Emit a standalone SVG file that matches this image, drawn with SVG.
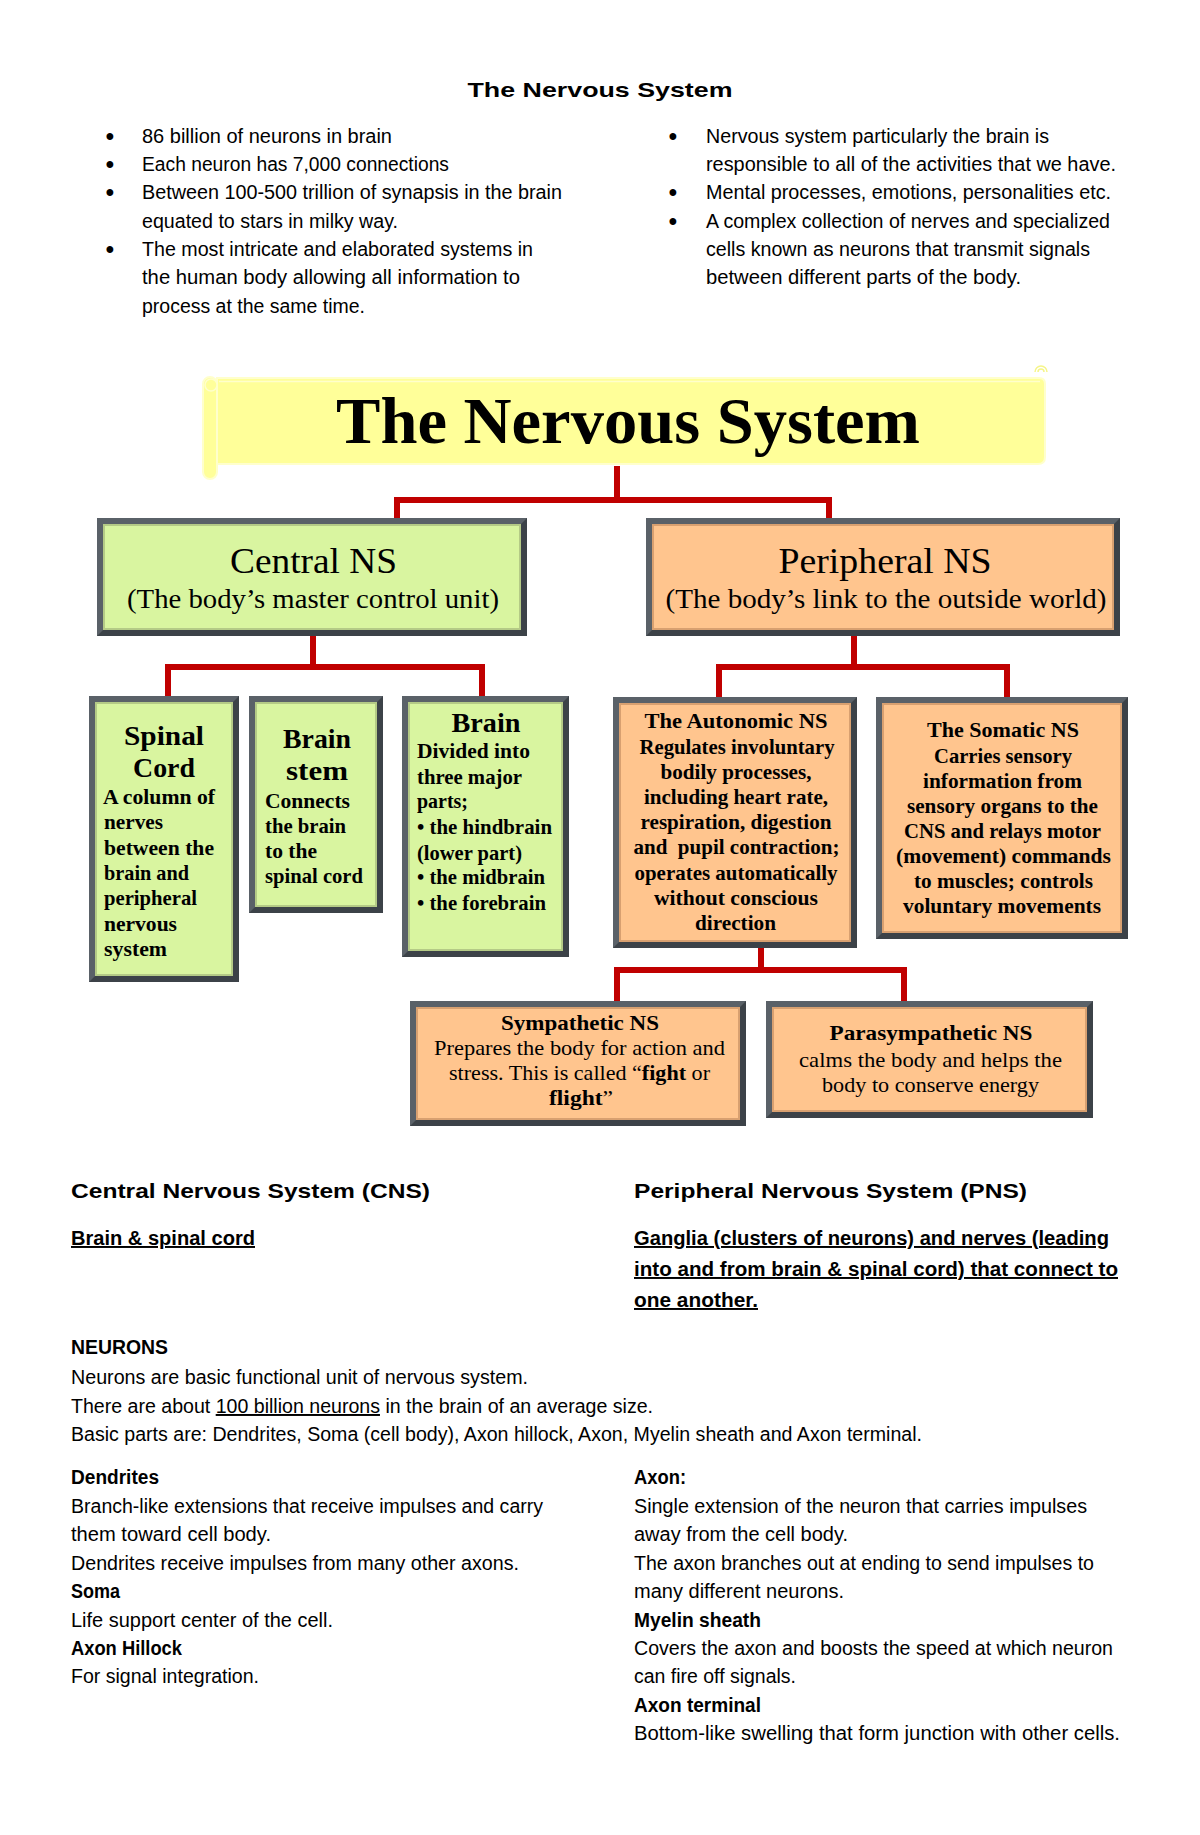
<svg xmlns="http://www.w3.org/2000/svg" width="1200" height="1835" viewBox="0 0 1200 1835">
<style>
.t{font-family:"Liberation Sans",Arial,sans-serif;font-size:19.5px;fill:#000}
.tb{font-family:"Liberation Sans",Arial,sans-serif;font-size:19.5px;font-weight:bold;fill:#000}
.th{font-family:"Liberation Sans",Arial,sans-serif;font-size:21px;font-weight:bold;fill:#000}
.bul{font-family:"Liberation Sans",Arial,sans-serif;font-size:25px;text-anchor:middle;fill:#000}
.u{text-decoration:underline}
.sr{font-family:"Liberation Serif","Times New Roman",serif;fill:#000}
.sb{font-family:"Liberation Serif","Times New Roman",serif;font-weight:bold;fill:#000}
.c{text-anchor:middle}
.fo{fill:#5a6168}
.fd{fill:#3c4248}
.g{fill:#d9f5a0;stroke:#b4ca86;stroke-width:2}
.o{fill:#ffc58e;stroke:#d8a070;stroke-width:2}
.conn{fill:none;stroke:#c00000;stroke-width:6;stroke-linejoin:miter}
</style>

<!-- Header text -->
<g id="header">
<text class="th c" x="600" y="97" font-size="23" textLength="265" lengthAdjust="spacingAndGlyphs">The Nervous System</text>
<g class="bul">
<text x="110" y="145">•</text>
<text x="110" y="173">•</text>
<text x="110" y="201">•</text>
<text x="110" y="258">•</text>
<text x="673" y="145">•</text>
<text x="673" y="201">•</text>
<text x="673" y="230">•</text>
</g>
<g class="t">
<text x="142" y="143" textLength="250" lengthAdjust="spacingAndGlyphs">86 billion of neurons in brain</text>
<text x="142" y="171" textLength="307" lengthAdjust="spacingAndGlyphs">Each neuron has 7,000 connections</text>
<text x="142" y="199" textLength="420" lengthAdjust="spacingAndGlyphs">Between 100-500 trillion of synapsis in the brain</text>
<text x="142" y="228" textLength="256" lengthAdjust="spacingAndGlyphs">equated to stars in milky way.</text>
<text x="142" y="256" textLength="391" lengthAdjust="spacingAndGlyphs">The most intricate and elaborated systems in</text>
<text x="142" y="284" textLength="378" lengthAdjust="spacingAndGlyphs">the human body allowing all information to</text>
<text x="142" y="313" textLength="223" lengthAdjust="spacingAndGlyphs">process at the same time.</text>
<text x="706" y="143" textLength="343" lengthAdjust="spacingAndGlyphs">Nervous system particularly the brain is</text>
<text x="706" y="171" textLength="410" lengthAdjust="spacingAndGlyphs">responsible to all of the activities that we have.</text>
<text x="706" y="199" textLength="405" lengthAdjust="spacingAndGlyphs">Mental processes, emotions, personalities etc.</text>
<text x="706" y="228" textLength="404" lengthAdjust="spacingAndGlyphs">A complex collection of nerves and specialized</text>
<text x="706" y="256" textLength="384" lengthAdjust="spacingAndGlyphs">cells known as neurons that transmit signals</text>
<text x="706" y="284" textLength="315" lengthAdjust="spacingAndGlyphs">between different parts of the body.</text>
</g>
</g>

<!-- Connectors -->
<g id="connectors" class="conn">
<path d="M617,466 V500 M397,518 V500 H829 V518"/>
<path d="M313,636 V667 M168,697 V667 H482 V697"/>
<path d="M854,636 V667 M719,697 V667 H1007 V697"/>
<path d="M761,948 V970 M617,1001 V970 H904 V1001"/>
</g>

<!-- Banner -->
<g id="banner">
<path d="M217,378 H1039 Q1045,378 1045,384 V457 Q1045,464 1038,464 H217 Z" fill="#ffff99" stroke="#ffffcc" stroke-width="2"/>
<line x1="219" y1="381.5" x2="1040" y2="381.5" stroke="#ffffcc" stroke-width="1.5"/>
<rect x="203" y="377" width="14" height="102" rx="7" fill="#ffff99" stroke="#ffffcc" stroke-width="2"/>
<circle cx="211" cy="385" r="6" fill="#ffff99" stroke="#ffffcc" stroke-width="1.5"/>
<path d="M1035,372 A6,6 0 1 1 1047,372 M1038,372 A3,3 0 1 1 1044,372" fill="none" stroke="#f5f58a" stroke-width="1.5"/>
<text class="sb c" x="628" y="443" font-size="66" textLength="584" lengthAdjust="spacingAndGlyphs">The Nervous System</text>
</g>

<!-- Central NS -->
<g id="central">
<rect class="fo" x="97" y="518" width="430" height="118"/>
<polygon class="fd" points="527,518 527,636 97,636 104,629 520,629 520,525"/>
<rect class="g" x="104" y="525" width="416" height="104"/>
<text class="sr c" x="313.5" y="573" font-size="36" textLength="167" lengthAdjust="spacingAndGlyphs">Central NS</text>
<text class="sr c" x="313" y="608" font-size="27" textLength="372" lengthAdjust="spacingAndGlyphs">(The body’s master control unit)</text>
</g>

<!-- Peripheral NS -->
<g id="peripheral">
<rect class="fo" x="646" y="518" width="474" height="118"/>
<polygon class="fd" points="1120,518 1120,636 646,636 653,629 1113,629 1113,525"/>
<rect class="o" x="653" y="525" width="460" height="104"/>
<text class="sr c" x="885" y="573" font-size="36" textLength="213" lengthAdjust="spacingAndGlyphs">Peripheral NS</text>
<text class="sr c" x="886" y="608" font-size="27" textLength="441" lengthAdjust="spacingAndGlyphs">(The body’s link to the outside world)</text>
</g>

<!-- Spinal Cord -->
<g id="spinal">
<rect class="fo" x="89" y="696" width="150" height="286"/>
<polygon class="fd" points="239,696 239,982 89,982 96,975 232,975 232,703"/>
<rect class="g" x="96" y="703" width="136" height="272"/>
<text class="sb c" x="164" y="745" font-size="28" textLength="80" lengthAdjust="spacingAndGlyphs">Spinal</text>
<text class="sb c" x="164" y="777" font-size="28" textLength="62" lengthAdjust="spacingAndGlyphs">Cord</text>
<g class="sb" font-size="22">
<text x="103" y="804" textLength="112" lengthAdjust="spacingAndGlyphs">A column of</text>
<text x="104" y="829" textLength="59" lengthAdjust="spacingAndGlyphs">nerves</text>
<text x="104" y="855" textLength="110" lengthAdjust="spacingAndGlyphs">between the</text>
<text x="104" y="880" textLength="85" lengthAdjust="spacingAndGlyphs">brain and</text>
<text x="104" y="905" textLength="93" lengthAdjust="spacingAndGlyphs">peripheral</text>
<text x="104" y="931" textLength="73" lengthAdjust="spacingAndGlyphs">nervous</text>
<text x="104" y="956" textLength="63" lengthAdjust="spacingAndGlyphs">system</text>
</g>
</g>

<!-- Brain stem -->
<g id="brainstem">
<rect class="fo" x="249" y="696" width="134" height="217"/>
<polygon class="fd" points="383,696 383,913 249,913 256,906 376,906 376,703"/>
<rect class="g" x="256" y="703" width="120" height="203"/>
<text class="sb c" x="317" y="748" font-size="28" textLength="68" lengthAdjust="spacingAndGlyphs">Brain</text>
<text class="sb c" x="317" y="780" font-size="28" textLength="62" lengthAdjust="spacingAndGlyphs">stem</text>
<g class="sb" font-size="22">
<text x="265" y="808" textLength="85" lengthAdjust="spacingAndGlyphs">Connects</text>
<text x="265" y="833" textLength="81" lengthAdjust="spacingAndGlyphs">the brain</text>
<text x="265" y="858" textLength="52" lengthAdjust="spacingAndGlyphs">to the</text>
<text x="265" y="883" textLength="98" lengthAdjust="spacingAndGlyphs">spinal cord</text>
</g>
</g>

<!-- Brain -->
<g id="brain">
<rect class="fo" x="402" y="696" width="167" height="261"/>
<polygon class="fd" points="569,696 569,957 402,957 409,950 562,950 562,703"/>
<rect class="g" x="409" y="703" width="153" height="247"/>
<text class="sb c" x="486" y="732" font-size="28" textLength="69" lengthAdjust="spacingAndGlyphs">Brain</text>
<g class="sb" font-size="22">
<text x="417" y="758" textLength="113" lengthAdjust="spacingAndGlyphs">Divided into</text>
<text x="417" y="784" textLength="105" lengthAdjust="spacingAndGlyphs">three major</text>
<text x="417" y="808" textLength="51" lengthAdjust="spacingAndGlyphs">parts;</text>
<text x="417" y="834" textLength="135" lengthAdjust="spacingAndGlyphs">• the hindbrain</text>
<text x="417" y="860" textLength="105" lengthAdjust="spacingAndGlyphs">(lower part)</text>
<text x="417" y="884" textLength="128" lengthAdjust="spacingAndGlyphs">• the midbrain</text>
<text x="417" y="910" textLength="129" lengthAdjust="spacingAndGlyphs">• the forebrain</text>
</g>
</g>

<!-- Autonomic NS -->
<g id="autonomic">
<rect class="fo" x="613" y="697" width="244" height="251"/>
<polygon class="fd" points="857,697 857,948 613,948 620,941 850,941 850,704"/>
<rect class="o" x="620" y="704" width="230" height="237"/>
<g class="sb c" font-size="21">
<text x="736" y="728" textLength="183" lengthAdjust="spacingAndGlyphs">The Autonomic NS</text>
<text x="737" y="754" textLength="195" lengthAdjust="spacingAndGlyphs">Regulates involuntary</text>
<text x="736" y="779" textLength="151" lengthAdjust="spacingAndGlyphs">bodily processes,</text>
<text x="736" y="804" textLength="184" lengthAdjust="spacingAndGlyphs">including heart rate,</text>
<text x="736" y="829" textLength="191" lengthAdjust="spacingAndGlyphs">respiration, digestion</text>
<text x="736.5" y="854" textLength="206" lengthAdjust="spacingAndGlyphs" xml:space="preserve">and  pupil contraction;</text>
<text x="736" y="880" textLength="203" lengthAdjust="spacingAndGlyphs">operates automatically</text>
<text x="736" y="905" textLength="164" lengthAdjust="spacingAndGlyphs">without conscious</text>
<text x="735.5" y="930" textLength="81" lengthAdjust="spacingAndGlyphs">direction</text>
</g>
</g>

<!-- Somatic NS -->
<g id="somatic">
<rect class="fo" x="876" y="697" width="252" height="242"/>
<polygon class="fd" points="1128,697 1128,939 876,939 883,932 1121,932 1121,704"/>
<rect class="o" x="883" y="704" width="238" height="228"/>
<g class="sb c" font-size="21">
<text x="1003" y="737" textLength="152" lengthAdjust="spacingAndGlyphs">The Somatic NS</text>
<text x="1003" y="763" textLength="138" lengthAdjust="spacingAndGlyphs">Carries sensory</text>
<text x="1002.5" y="788" textLength="159" lengthAdjust="spacingAndGlyphs">information from</text>
<text x="1002.5" y="813" textLength="191" lengthAdjust="spacingAndGlyphs">sensory organs to the</text>
<text x="1002.5" y="838" textLength="197" lengthAdjust="spacingAndGlyphs">CNS and relays motor</text>
<text x="1003.5" y="863" textLength="215" lengthAdjust="spacingAndGlyphs">(movement) commands</text>
<text x="1003.5" y="888" textLength="179" lengthAdjust="spacingAndGlyphs">to muscles; controls</text>
<text x="1002" y="913" textLength="198" lengthAdjust="spacingAndGlyphs">voluntary movements</text>
</g>
</g>

<!-- Sympathetic NS -->
<g id="sympathetic">
<rect class="fo" x="410" y="1001" width="336" height="125"/>
<polygon class="fd" points="746,1001 746,1126 410,1126 417,1119 739,1119 739,1008"/>
<rect class="o" x="417" y="1008" width="322" height="111"/>
<text class="sb c" x="580" y="1030" font-size="22" textLength="158" lengthAdjust="spacingAndGlyphs">Sympathetic  NS</text>
<text class="sr c" x="579.5" y="1055" font-size="22" textLength="291" lengthAdjust="spacingAndGlyphs">Prepares the body for action and</text>
<text class="sr c" x="579.5" y="1080" font-size="22" textLength="261" lengthAdjust="spacingAndGlyphs">stress. This is called “<tspan font-weight="bold">fight</tspan> or</text>
<text class="sr c" x="581" y="1105" font-size="22" textLength="64" lengthAdjust="spacingAndGlyphs"><tspan font-weight="bold">flight</tspan>”</text>
</g>

<!-- Parasympathetic NS -->
<g id="parasympathetic">
<rect class="fo" x="766" y="1001" width="327" height="117"/>
<polygon class="fd" points="1093,1001 1093,1118 766,1118 773,1111 1086,1111 1086,1008"/>
<rect class="o" x="773" y="1008" width="313" height="103"/>
<text class="sb c" x="931" y="1040" font-size="22" textLength="203" lengthAdjust="spacingAndGlyphs">Parasympathetic NS</text>
<text class="sr c" x="930.5" y="1067" font-size="22" textLength="263" lengthAdjust="spacingAndGlyphs">calms the body and helps the</text>
<text class="sr c" x="930.5" y="1092" font-size="22" textLength="217" lengthAdjust="spacingAndGlyphs">body to conserve energy</text>
</g>

<!-- Lower text -->
<g id="cns-pns">
<text class="th" x="71" y="1198" textLength="359" lengthAdjust="spacingAndGlyphs">Central Nervous System (CNS)</text>
<text class="th" x="634" y="1198" textLength="393" lengthAdjust="spacingAndGlyphs">Peripheral Nervous System (PNS)</text>
<text class="tb u" x="71" y="1245" textLength="184" lengthAdjust="spacingAndGlyphs">Brain &amp; spinal cord</text>
<text class="tb u" x="634" y="1245" textLength="475" lengthAdjust="spacingAndGlyphs">Ganglia (clusters of neurons) and nerves (leading</text>
<text class="tb u" x="634" y="1276" textLength="484" lengthAdjust="spacingAndGlyphs">into and from brain &amp; spinal cord) that connect to</text>
<text class="tb u" x="634" y="1307" textLength="124" lengthAdjust="spacingAndGlyphs">one another.</text>
</g>

<g id="neurons">
<text class="tb" x="71" y="1354" textLength="97" lengthAdjust="spacingAndGlyphs">NEURONS</text>
<text class="t" x="71" y="1384" textLength="457" lengthAdjust="spacingAndGlyphs">Neurons are basic functional unit of nervous system.</text>
<text class="t" x="71" y="1413" textLength="582" lengthAdjust="spacingAndGlyphs">There are about <tspan class="u">100 billion neurons</tspan> in the brain of an average size.</text>
<text class="t" x="71" y="1441" textLength="851" lengthAdjust="spacingAndGlyphs">Basic parts are: Dendrites, Soma (cell body), Axon hillock, Axon, Myelin sheath and Axon terminal.</text>
</g>

<g id="parts-left">
<text class="tb" x="71" y="1484" textLength="88" lengthAdjust="spacingAndGlyphs">Dendrites</text>
<text class="t" x="71" y="1513" textLength="472" lengthAdjust="spacingAndGlyphs">Branch-like extensions that receive impulses and carry</text>
<text class="t" x="71" y="1541" textLength="200" lengthAdjust="spacingAndGlyphs">them toward cell body.</text>
<text class="t" x="71" y="1570" textLength="448" lengthAdjust="spacingAndGlyphs">Dendrites receive impulses from many other axons.</text>
<text class="tb" x="71" y="1598" textLength="49" lengthAdjust="spacingAndGlyphs">Soma</text>
<text class="t" x="71" y="1627" textLength="262" lengthAdjust="spacingAndGlyphs">Life support center of the cell.</text>
<text class="tb" x="71" y="1655" textLength="111" lengthAdjust="spacingAndGlyphs">Axon Hillock</text>
<text class="t" x="71" y="1683" textLength="188" lengthAdjust="spacingAndGlyphs">For signal integration.</text>
</g>

<g id="parts-right">
<text class="tb" x="634" y="1484" textLength="52" lengthAdjust="spacingAndGlyphs">Axon:</text>
<text class="t" x="634" y="1513" textLength="453" lengthAdjust="spacingAndGlyphs">Single extension of the neuron that carries impulses</text>
<text class="t" x="634" y="1541" textLength="214" lengthAdjust="spacingAndGlyphs">away from the cell body.</text>
<text class="t" x="634" y="1570" textLength="460" lengthAdjust="spacingAndGlyphs">The axon branches out at ending to send impulses to</text>
<text class="t" x="634" y="1598" textLength="210" lengthAdjust="spacingAndGlyphs">many different neurons.</text>
<text class="tb" x="634" y="1627" textLength="127" lengthAdjust="spacingAndGlyphs">Myelin sheath</text>
<text class="t" x="634" y="1655" textLength="479" lengthAdjust="spacingAndGlyphs">Covers the axon and boosts the speed at which neuron</text>
<text class="t" x="634" y="1683" textLength="162" lengthAdjust="spacingAndGlyphs">can fire off signals.</text>
<text class="tb" x="634" y="1712" textLength="127" lengthAdjust="spacingAndGlyphs">Axon terminal</text>
<text class="t" x="634" y="1740" textLength="486" lengthAdjust="spacingAndGlyphs">Bottom-like swelling that form junction with other cells.</text>
</g>
</svg>
